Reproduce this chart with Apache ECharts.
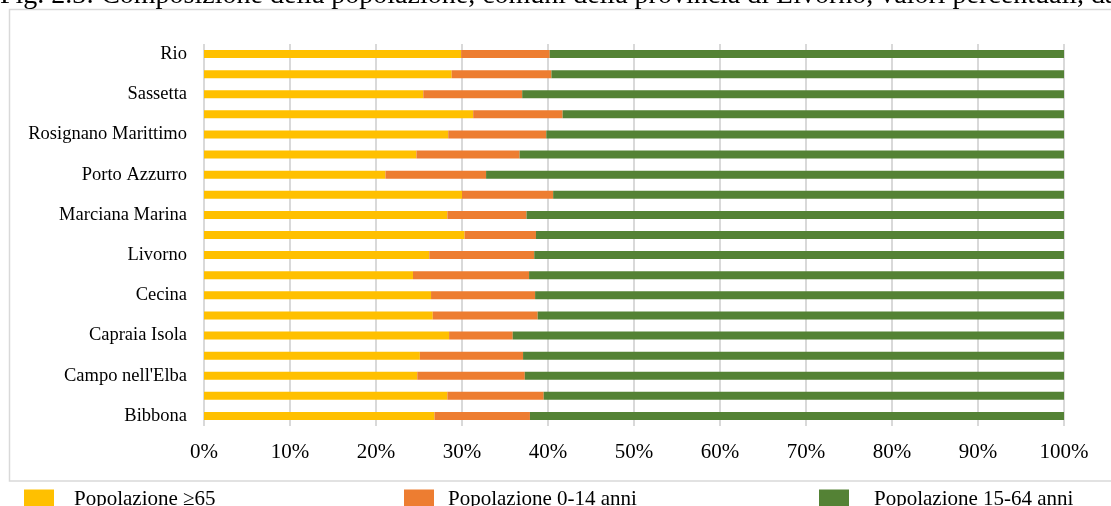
<!DOCTYPE html>
<html>
<head>
<meta charset="utf-8">
<script src="https://cdn.jsdelivr.net/npm/echarts@6/dist/echarts.min.js"></script>
<style>
  html, body { margin: 0; padding: 0; background: #ffffff; }
  #chart { width: 1111px; height: 506px; }
</style>
</head>
<body>
<div id="chart"></div>
<script>
// Comuni della provincia di Livorno (dal basso verso l'alto)
const comuni = [
  'Bibbona', 'Campiglia Marittima', "Campo nell'Elba", 'Capoliveri', 'Capraia Isola',
  'Castagneto Carducci', 'Cecina', 'Collesalvetti', 'Livorno', 'Marciana',
  'Marciana Marina', 'Piombino', 'Porto Azzurro', 'Portoferraio', 'Rosignano Marittimo',
  'San Vincenzo', 'Sassetta', 'Suvereto', 'Rio'
];

// Quote percentuali per classe di età
const pop65plus = [26.8, 28.3, 24.8, 25.1, 28.5, 26.6, 26.4, 24.3, 26.2, 30.3,
                   28.3, 30.0, 21.1, 24.7, 28.4, 31.3, 25.5, 28.8, 29.9];
const pop0_14   = [11.1, 11.2, 12.5, 12.0, 7.4, 12.2, 12.1, 13.5, 12.2, 8.3,
                   9.2, 10.6, 11.7, 12.0, 11.4, 10.4, 11.5, 11.6, 10.3];
const pop15_64  = [62.1, 60.5, 62.7, 62.9, 64.1, 61.2, 61.5, 62.2, 61.6, 61.4,
                   62.5, 59.4, 67.2, 63.3, 60.2, 58.3, 63.0, 59.6, 59.8];

const seriesNames = ['Popolazione \u226565', 'Popolazione 0-14 anni', 'Popolazione 15-64 anni'];
const seriesColors = ['#FFC000', '#ED7D31', '#548235'];
const xTicks = { min: 0, max: 100, step: 10 };

const titleText = 'Fig. 2.3: Composizione della popolazione, comuni della provincia di Livorno, valori percentuali, dati 2019';

const FONT = '"Liberation Serif", "Times New Roman", serif';

const chart = echarts.init(document.getElementById('chart'), null, { renderer: 'canvas' });

function legendAt(name, left, gap) {
  return {
    data: [name],
    left: left,
    top: 489,
    orient: 'horizontal',
    itemWidth: 30,
    itemHeight: 20,
    padding: 0,
    selectedMode: false,
    icon: 'rect',
    textStyle: {
      fontFamily: FONT,
      fontSize: 21,
      color: '#000',
      padding: [0, 0, 0, gap]
    }
  };
}

const option = {
  backgroundColor: '#ffffff',
  animation: false,
  textStyle: { fontFamily: FONT },
  graphic: [
    {
      type: 'rect',
      silent: true,
      shape: { x: 9.5, y: 9.5, width: 1200, height: 471.5 },
      style: { fill: 'none', stroke: '#d9d9d9', lineWidth: 1.5 }
    },
    {
      type: 'text',
      silent: true,
      left: 0,
      top: -18,
      style: {
        text: titleText,
        fontFamily: FONT,
        fontSize: 28,
        fill: '#000'
      }
    }
  ],
  legend: [
    legendAt(seriesNames[0], 24, 15),
    legendAt(seriesNames[1], 404, 9),
    legendAt(seriesNames[2], 819, 20)
  ],
  grid: {
    left: 204,
    right: 47,
    top: 44,
    bottom: 80,
    containLabel: false
  },
  xAxis: {
    type: 'value',
    min: xTicks.min,
    max: xTicks.max,
    interval: xTicks.step,
    axisLine: { show: false },
    axisTick: { show: false },
    axisLabel: {
      formatter: '{value}%',
      fontFamily: FONT,
      fontSize: 21,
      color: '#000',
      margin: 16
    },
    splitLine: { show: true, lineStyle: { color: '#d9d9d9', width: 2 } }
  },
  yAxis: {
    type: 'category',
    data: comuni,
    axisLine: { show: false },
    axisTick: { show: false },
    axisLabel: {
      interval: 1,
      fontFamily: FONT,
      fontSize: 18.5,
      color: '#000',
      margin: 17
    },
    splitLine: { show: false }
  },
  series: [pop65plus, pop0_14, pop15_64].map((vals, i) => ({
    name: seriesNames[i],
    type: 'bar',
    stack: 'totale',
    barWidth: 8,
    itemStyle: { color: seriesColors[i] },
    data: vals
  }))
};

chart.setOption(option);
</script>
</body>
</html>
